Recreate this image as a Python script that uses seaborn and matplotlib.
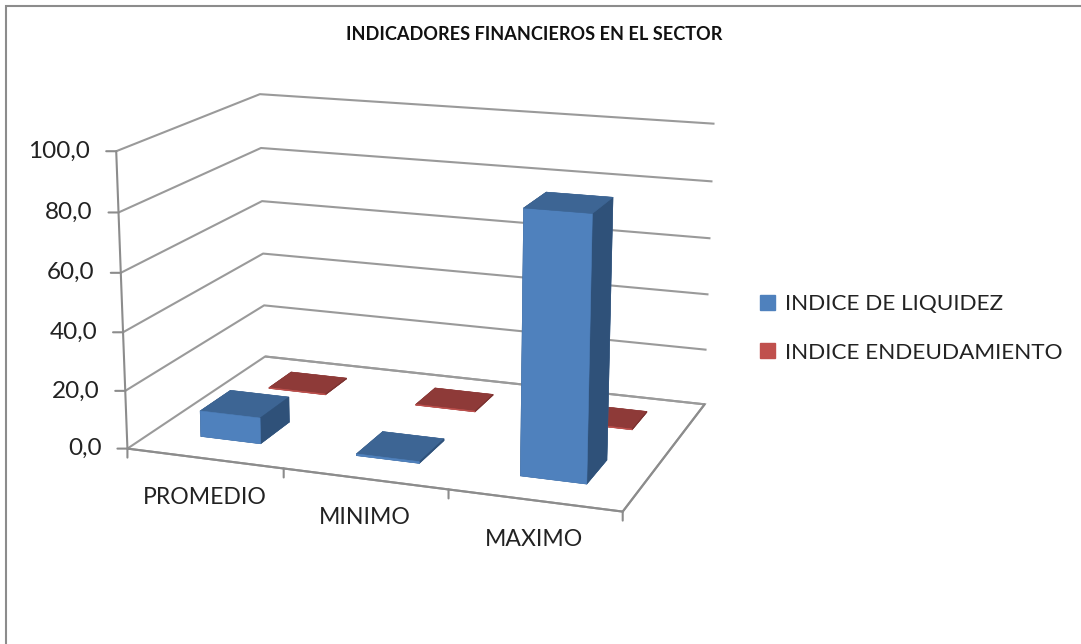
import matplotlib
matplotlib.use("Agg")
import matplotlib.pyplot as plt
import seaborn as sns
from matplotlib.patches import Rectangle
from mpl_toolkits.mplot3d import proj3d

categories = ["PROMEDIO", "MINIMO", "MAXIMO"]
liquidez = [9.0, 0.6, 87.5]
endeudamiento = [0.3, 0.3, 0.3]
z_ticks = [0, 20, 40, 60, 80, 100]
series_names = ["INDICE DE LIQUIDEZ", "INDICE ENDEUDAMIENTO"]
colors = ["#4F81BD", "#C0504D"]
blue_faces = ["#3D6594", "#3D6594", "#4F81BD", "#3D6594", "#2F5179", "#2F5179"]
red_faces = ["#8E3A38", "#8E3A38", "#C0504D", "#8E3A38", "#7A3230", "#7A3230"]
GRAY = "#8C8C8C"
INK = "#222222"

sns.set_theme(style="white")
plt.rcParams["font.family"] = ["Lato", "DejaVu Sans"]

fig = plt.figure(figsize=(10.81, 6.44), dpi=100)
ax = fig.add_axes([-0.005, 0.0455, 0.78, 1.0], projection="3d")
ax.set_proj_type("persp", focal_length=0.62)
ax.view_init(elev=15, azim=-70)
ax.set_box_aspect((2.2, 1.45, 1.305), zoom=1.015)
ax.patch.set_alpha(0)

for i, (a, b) in enumerate(zip(liquidez, endeudamiento)):
    ax.bar3d(i + 0.31, 0.175, 0, 0.39, 0.215, a, color=blue_faces, edgecolor=blue_faces,
             linewidth=0.4, shade=False, zsort="max")
    ax.bar3d(i + 0.31, 0.68, 0, 0.39, 0.18, b, color=red_faces, edgecolor=red_faces,
             linewidth=0.4, shade=False, zsort="max")

ax.set_xlim(0, 3); ax.set_ylim(0, 1); ax.set_zlim(0, 100)
ax.set_xticks(range(4), [""] * 4)
ax.set_yticks([])
ax.set_zticks(z_ticks, [""] * len(z_ticks))
ax.zaxis.set_ticks_position("lower")
for axis in (ax.xaxis, ax.yaxis, ax.zaxis):
    axis.set_pane_color((1, 1, 1, 1))
    axis._axinfo["grid"].update(color="#9A9A9A", linewidth=1.5)
    axis._axinfo["tick"].update(inward_factor=0, outward_factor=0, linewidth={True: 0, False: 0})
    axis.line.set_color(GRAY)
    axis.line.set_linewidth(1.5)
ax.xaxis.pane.set_edgecolor("none")
ax.yaxis.pane.set_edgecolor("none")
ax.zaxis.pane.set_edgecolor("#9A9A9A")
ax.zaxis.pane.set_linewidth(1.5)
ax.xaxis._axinfo["grid"]["linewidth"] = 0
ax.yaxis._axinfo["grid"]["linewidth"] = 0

fig.canvas.draw()
M = ax.get_proj()
tick_style = dict(arrowstyle="-", color=GRAY, lw=1.5, shrinkA=0, shrinkB=0)

for i, name in enumerate(categories):
    px, py, _ = proj3d.proj_transform(i + 0.5, 0, 0, M)
    ax.annotate(name, xy=(px, py), xycoords="data", xytext=(0, -39), textcoords="offset pixels",
                ha="center", va="center", fontsize=16.6, color=INK)
for x in range(4):
    px, py, _ = proj3d.proj_transform(x, 0, 0, M)
    ax.annotate("", xy=(px, py), xycoords="data", xytext=(0, -9), textcoords="offset pixels",
                arrowprops=tick_style)
for v in z_ticks:
    px, py, _ = proj3d.proj_transform(0, 0, v, M)
    ax.annotate("", xy=(px, py), xycoords="data", xytext=(-10, 0), textcoords="offset pixels",
                arrowprops=tick_style)
    ax.annotate(f"{v:.1f}".replace(".", ","), xy=(px, py), xycoords="data", xytext=(-26, 0),
                textcoords="offset pixels", ha="right", va="center", fontsize=17.5, color=INK)

fig.text(0.494, 0.946, "INDICADORES FINANCIEROS EN EL SECTOR", ha="center", va="center",
         fontsize=13.1, fontweight="bold", color="#111111")
handles = [Rectangle((0, 0), 1, 1, color=c) for c in colors]
fig.legend(handles, series_names, loc="center left", bbox_to_anchor=(0.684, 0.49), frameon=False,
           fontsize=16.2, handlelength=0.66, handleheight=0.66, labelspacing=1.25, handletextpad=0.45,
           labelcolor=INK)
fig.add_artist(Rectangle((0.0055, -0.01), 1.0, 1.0, transform=fig.transFigure, fill=False,
                         edgecolor=GRAY, linewidth=1.5))
fig.savefig("out.png", dpi=100)
